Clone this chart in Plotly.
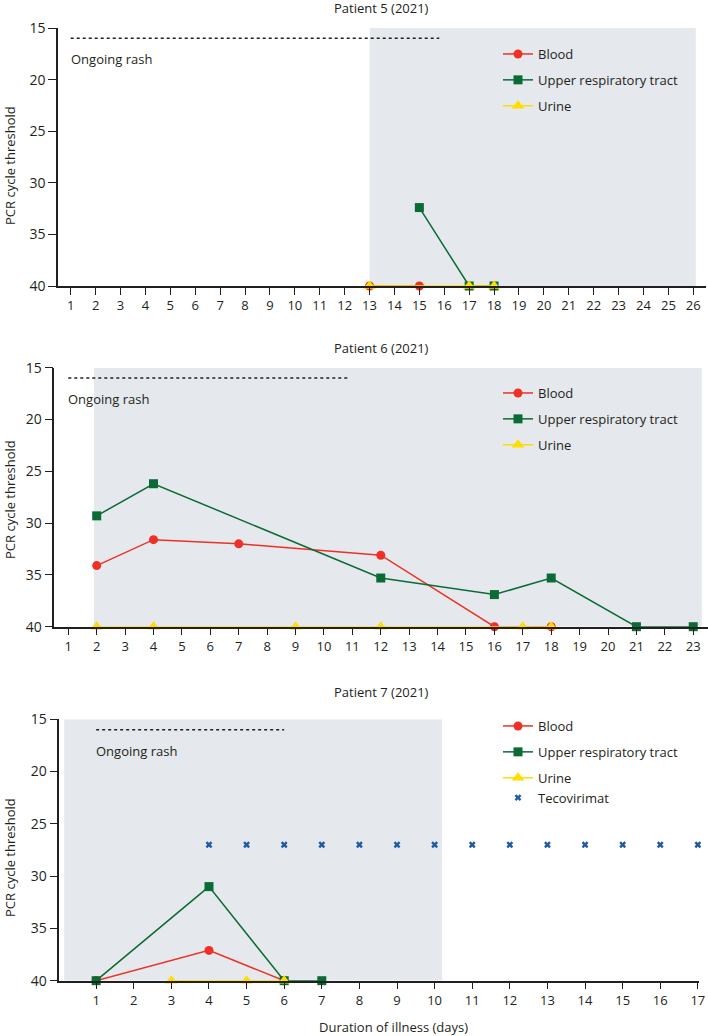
import plotly.graph_objects as go

W, H = 708, 1036
FONT = "Open Sans"
INK = "#231f20"
RED = "#ee3124"
GREEN = "#0b6b35"
YELLOW = "#ffdd00"
BLUE = "#1f5aa6"
SHADE = "#e5e8ec"

# ---------------- data ----------------
# Patient 5
p5_days = list(range(1, 27))
p5_blood_x = [13, 15]
p5_blood_y = [40, 40]
p5_urt_x = [15, 17, 18]
p5_urt_y = [32.4, 40, 40]
p5_urine_x = [13, 17, 18]
p5_urine_y = [40, 40, 40]
p5_rash = [1, 15.8]
p5_shade = [13, 26.1]

# Patient 6
p6_days = list(range(1, 24))
p6_blood_x = [2, 4, 7, 12, 16, 18]
p6_blood_y = [34.1, 31.6, 32.0, 33.1, 40, 40]
p6_urt_x = [2, 4, 12, 16, 18, 21, 23]
p6_urt_y = [29.3, 26.2, 35.3, 36.9, 35.3, 40, 40]
p6_urine_x = [2, 4, 9, 12, 17, 18]
p6_urine_y = [40, 40, 40, 40, 40, 40]
p6_rash = [1, 10.9]
p6_shade = [1.9, 23.3]

# Patient 7
p7_days = list(range(1, 18))
p7_blood_x = [1, 4, 6]
p7_blood_y = [40, 37.1, 40]
p7_urt_x = [1, 4, 6, 7]
p7_urt_y = [40, 31.0, 40, 40]
p7_urine_x = [3, 5, 6]
p7_urine_y = [40, 40, 40]
p7_teco_x = list(range(4, 18))
p7_teco_y = [27] * len(p7_teco_x)
p7_rash = [1, 6]
p7_shade = [0.15, 10.2]

y_ticks = [15, 20, 25, 30, 35, 40]
rash_level = 16
rash_label_level = 18


def px(x):
    return x / W


def py(y):
    return 1 - y / H


fig = go.Figure()

panels = [
    dict(title="Patient 5 (2021)", days=p5_days, xr=[0.49, 26.51], xd=[58, 706], yd=[28, 286],
         blood=(p5_blood_x, p5_blood_y), urt=(p5_urt_x, p5_urt_y), urine=(p5_urine_x, p5_urine_y),
         teco=None, rash=p5_rash, shade=p5_shade, title_y=8, ytitle_y=166,
         leg=(498, 39)),
    dict(title="Patient 6 (2021)", days=p6_days, xr=[0.507, 23.52], xd=[54.3, 708], yd=[367.7, 626.7],
         blood=(p6_blood_x, p6_blood_y), urt=(p6_urt_x, p6_urt_y), urine=(p6_urine_x, p6_urine_y),
         teco=None, rash=p6_rash, shade=p6_shade, title_y=348, ytitle_y=500,
         leg=(498, 378)),
    dict(title="Patient 7 (2021)", days=p7_days, xr=[0.02, 17.03], xd=[59.3, 699], yd=[719.3, 980.7],
         blood=(p7_blood_x, p7_blood_y), urt=(p7_urt_x, p7_urt_y), urine=(p7_urine_x, p7_urine_y),
         teco=(p7_teco_x, p7_teco_y), rash=p7_rash, shade=p7_shade, title_y=692, ytitle_y=858,
         leg=(498, 711)),
]

annotations = []
shapes = []
for i, p in enumerate(panels):
    n = i + 1
    xa = "x" if n == 1 else f"x{n}"
    ya = "y" if n == 1 else f"y{n}"
    lg = "legend" if n == 1 else f"legend{n}"

    # shaded period
    shapes.append(dict(type="rect", xref=xa, yref=ya, x0=p["shade"][0], x1=p["shade"][1],
                       y0=15, y1=40, fillcolor=SHADE, line_width=0, layer="below"))

    # ongoing rash dashed line
    fig.add_trace(go.Scatter(x=p["rash"], y=[rash_level, rash_level], mode="lines",
                             line=dict(color=INK, width=1.5, dash="3px,3px"),
                             showlegend=False, hoverinfo="skip", xaxis=xa, yaxis=ya))
    annotations.append(dict(x=p["rash"][0], y=rash_label_level, xref=xa, yref=ya, text="Ongoing rash",
                            showarrow=False, xanchor="left", yanchor="middle", xshift=-2,
                            font=dict(family=FONT, size=13, color=INK)))

    fig.add_trace(go.Scatter(x=p["blood"][0], y=p["blood"][1], mode="lines+markers", name="Blood",
                             line=dict(color=RED, width=1.5), marker=dict(symbol="circle", size=9, color=RED),
                             cliponaxis=False, legend=lg, legendgroup="a", xaxis=xa, yaxis=ya))
    fig.add_trace(go.Scatter(x=p["urt"][0], y=p["urt"][1], mode="lines+markers", name="Upper respiratory tract",
                             line=dict(color=GREEN, width=1.5), marker=dict(symbol="square", size=9, color=GREEN),
                             cliponaxis=False, legend=lg, legendgroup="b", xaxis=xa, yaxis=ya))
    fig.add_trace(go.Scatter(x=p["urine"][0], y=p["urine"][1], mode="lines+markers", name="Urine",
                             line=dict(color=YELLOW, width=1.5), marker=dict(symbol="triangle-up", size=11, color=YELLOW),
                             cliponaxis=False, legend=lg, legendgroup="c", xaxis=xa, yaxis=ya))
    if p["teco"] is not None:
        fig.add_trace(go.Scatter(x=p["teco"][0], y=p["teco"][1], mode="markers", name="Tecovirimat",
                                 marker=dict(symbol="x", size=6, color=BLUE, line=dict(width=0)),
                                 cliponaxis=False, legend=lg, legendgroup="c", xaxis=xa, yaxis=ya))

    axis_common = dict(showline=True, linecolor=INK, linewidth=1.5, ticks="outside", tickcolor=INK,
                       tickwidth=1.4, showgrid=False, zeroline=False, color=INK, automargin=False)
    fig.update_layout(**{
        ("xaxis" if n == 1 else f"xaxis{n}"): dict(
            domain=[px(p["xd"][0]), px(p["xd"][1])], range=p["xr"], anchor=ya,
            tickmode="array", tickvals=p["days"], ticktext=[str(d) for d in p["days"]],
            ticklen=7, tickfont=dict(family=FONT, size=13, color=INK), **axis_common),
        ("yaxis" if n == 1 else f"yaxis{n}"): dict(
            domain=[py(p["yd"][1]), py(p["yd"][0])], range=[40, 15], anchor=xa,
            tickmode="array", tickvals=y_ticks, ticklen=8,
            tickfont=dict(family=FONT, size=14, color=INK), **axis_common),
        lg: dict(x=px(p["leg"][0]), y=py(p["leg"][1]), xanchor="left", yanchor="top",
                 bgcolor="rgba(0,0,0,0)", borderwidth=0, tracegroupgap=6, traceorder="grouped",
                 font=dict(family=FONT, size=13, color=INK)),
    })

    annotations.append(dict(x=px(381), y=py(p["title_y"]), xref="paper", yref="paper", text=p["title"],
                            showarrow=False, xanchor="center", yanchor="middle",
                            font=dict(family=FONT, size=13, color=INK)))
    annotations.append(dict(x=px(10), y=py(p["ytitle_y"]), xref="paper", yref="paper",
                            text="PCR cycle threshold", textangle=-90, showarrow=False,
                            xanchor="center", yanchor="middle",
                            font=dict(family=FONT, size=13, color=INK)))

annotations.append(dict(x=px(393), y=py(1027), xref="paper", yref="paper", text="Duration of illness (days)",
                        showarrow=False, xanchor="center", yanchor="middle",
                        font=dict(family=FONT, size=13, color=INK)))

fig.update_layout(template="none", width=W, height=H, margin=dict(l=0, r=0, t=0, b=0, pad=0),
                  paper_bgcolor="white", plot_bgcolor="rgba(0,0,0,0)",
                  annotations=annotations, shapes=shapes, showlegend=True,
                  font=dict(family=FONT, color=INK))

fig.write_html("out.html", config={"displayModeBar": False},
               post_script="document.body.style.margin='0px';")
